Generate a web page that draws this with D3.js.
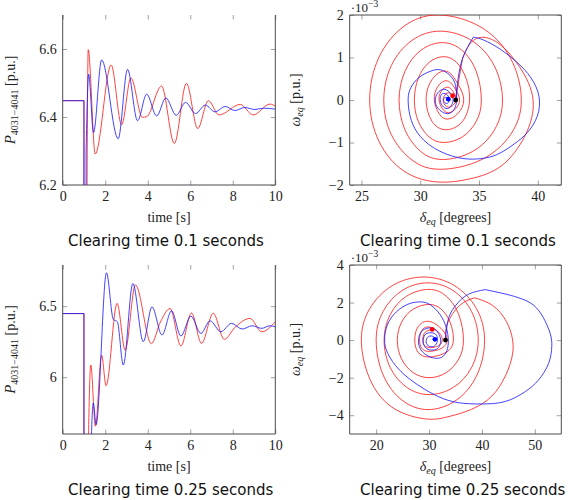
<!DOCTYPE html>
<html>
<head>
<meta charset="utf-8">
<script src="https://cdn.jsdelivr.net/npm/d3@7"></script>
<style>
body { margin: 0; background: #fff; }
</style>
</head>
<body>
<svg id="chart" width="568" height="500"></svg>
<script>
// ---------- time series, clearing time 0.1 s ----------
var ct1RedFaultTime = [0, 1.0, 1.0, 1.1];
var ct1RedFaultValue = [6.448, 6.448, 5.5, 5.5];
var ct1BlueFaultTime = [0, 1.0, 1.0, 1.1, 1.1];
var ct1BlueFaultValue = [6.448, 6.448, 5.5, 5.5, 6.30];
var ct1RedTime = [1.1, 1.2, 1.53, 2.28, 2.77, 3.21, 3.75, 3.95, 4.65, 5.25, 5.82, 6.35, 6.85, 7.35, 8.35, 8.96, 9.75, 10];
var ct1RedValue = [5.5, 6.598, 6.291, 6.553, 6.377, 6.515, 6.399, 6.401, 6.491, 6.322, 6.499, 6.366, 6.448, 6.406, 6.437, 6.406, 6.438, 6.432];
var ct1BlueTime = [1.1, 1.22, 1.45, 1.83, 2.61, 3.05, 3.52, 3.95, 4.42, 4.85, 5.34, 5.78, 6.25, 6.71, 7.17, 7.64, 8.1, 8.57, 9.04, 9.45, 10];
var ct1BlueValue = [6.30, 6.526, 6.354, 6.568, 6.336, 6.54, 6.389, 6.467, 6.403, 6.456, 6.405, 6.443, 6.41, 6.435, 6.415, 6.431, 6.419, 6.428, 6.422, 6.426, 6.423];

// ---------- time series, clearing time 0.25 s ----------
var ct2RedFaultTime = [0, 1.0, 1.0, 1.15];
var ct2RedFaultValue = [6.448, 6.448, 5.0, 5.0];
var ct2BlueFaultTime = [0, 1.0, 1.0, 1.25];
var ct2BlueFaultValue = [6.448, 6.448, 5.0, 5.0];
var ct2RedTime = [1.15, 1.32, 1.54, 1.83, 2.04, 2.56, 2.94, 3.42, 4.17, 4.6, 5.05, 5.56, 6.06, 6.53, 7.08, 7.6, 8.1, 8.81, 9.36, 10];
var ct2RedValue = [5.0, 6.086, 5.655, 6.156, 5.94, 6.52, 6.19, 6.65, 6.236, 6.39, 6.484, 6.22, 6.452, 6.238, 6.45, 6.266, 6.35, 6.414, 6.32, 6.39];
var ct2BlueTime = [1.25, 1.44, 1.57, 2.06, 2.38, 2.57, 2.85, 3.3, 3.79, 4.2, 4.67, 5.12, 5.56, 6.03, 6.5, 6.93, 7.44, 7.94, 8.44, 8.91, 9.36, 9.75, 10];
var ct2BlueValue = [5.0, 5.818, 5.666, 6.735, 6.407, 6.39, 6.086, 6.66, 6.25, 6.495, 6.297, 6.467, 6.29, 6.43, 6.308, 6.397, 6.32, 6.379, 6.339, 6.362, 6.344, 6.362, 6.355];

// ---------- phase portraits [delta_eq (deg), omega_eq (1e-3 p.u.)] ----------
var ph1BlueFault = [[33.02, 0.0], [33.16, 0.37], [33.58, 0.96], [34.52, 1.48]];
var ph1Blue = [[34.52, 1.48], [35.4, 1.41], [36.84, 1.19], [38.26, 0.88], [39.4, 0.53], [40.1, 0.09], [39.96, -0.38],
  [39.1, -0.77], [37.97, -1.04], [36.56, -1.28], [35.14, -1.38], [33.73, -1.38], [32.3, -1.28], [30.9, -1.08],
  [29.76, -0.77], [29.14, -0.38], [28.97, 0.02], [29.2, 0.29], [29.9, 0.53], [30.9, 0.68], [31.74, 0.71],
  [32.45, 0.6], [32.93, 0.41], [33.1, 0.1], [33.0, -0.15], [32.6, -0.3], [32.0, -0.3], [31.4, -0.15],
  [31.3, 0.05], [31.6, 0.2], [32.1, 0.25], [32.6, 0.15], [32.8, 0.0], [32.6, -0.15], [32.2, -0.2],
  [31.8, -0.1], [31.7, 0.05], [31.9, 0.15], [32.3, 0.12], [32.45, 0.0], [32.3, -0.08], [32.05, -0.05],
  [32.0, 0.03], [32.2, 0.06], [32.39, 0.02]];
var ph1RedFault = [[33.02, 0.0], [33.3, 0.5], [33.6, 0.98]];
var ph1Red = [[33.6, 0.98], [34.6, 1.42], [36.4, 1.38], [38.4, 0.8], [39.6, 0.0],
  [38.9, -0.85], [36.9, -1.55], [34.3, -1.85], [31.5, -1.93], [28.6, -1.671], [26.48, -0.965], [25.7, 0.0],
  [26.48, 1.0], [28.6, 1.732], [31.5, 2.0], [35.05, 1.732], [37.65, 1.0], [38.6, 0.0],
  [37.68, -0.815], [35.15, -1.412], [31.7, -1.63], [29.3, -1.412], [27.54, -0.815], [26.9, 0.0],
  [27.54, 0.81], [29.3, 1.403], [31.7, 1.62], [34.35, 1.403], [36.29, 0.81], [37.0, 0.0],
  [36.32, -0.7], [34.45, -1.212], [31.9, -1.4], [30.05, -1.212], [28.7, -0.7], [28.2, 0.0],
  [28.7, 0.675], [30.05, 1.169], [31.9, 1.35], [33.55, 1.169], [34.76, 0.675], [35.2, 0.0],
  [34.77, -0.5], [33.6, -0.866], [32.0, -1.0], [30.75, -0.866], [29.83, -0.5], [29.5, 0.0],
  [29.83, 0.51], [30.75, 0.883], [32.0, 1.02], [33.1, 0.883], [33.9, 0.51], [34.2, 0.0],
  [33.6, -0.5], [32.2, -0.7], [31.0, -0.5], [30.5, 0.0], [31.0, 0.48], [32.2, 0.68], [33.2, 0.38],
  [33.7, 0.0], [33.2, -0.32], [32.3, -0.45], [31.6, -0.32], [31.2, 0.0], [31.5, 0.32], [32.3, 0.45], [33.0, 0.25],
  [33.35, 0.0], [33.0, -0.21], [32.4, -0.3], [31.9, -0.21], [31.6, 0.0], [31.8, 0.21], [32.4, 0.3], [32.9, 0.15],
  [33.05, 0.0], [32.8, -0.12], [32.45, -0.17], [32.1, -0.12], [31.95, 0.0], [32.1, 0.12], [32.45, 0.17], [32.75, 0.1]];

var ph2BlueFault = [[33.1, 0.0], [33.4, 0.8], [34.1, 1.45], [35.5, 2.0], [37.5, 2.45], [40.6, 2.69]];
var ph2Blue = [[40.6, 2.69], [44.5, 2.45], [47.5, 2.2], [49.8, 1.85], [51.6, 1.2], [52.9, 0.35], [53.2, -0.35],
  [52.6, -1.24], [50.7, -2.12], [48.2, -2.74], [44.4, -3.27], [39.9, -3.4], [35.5, -3.33], [31.7, -3.0],
  [27.9, -2.39], [24.4, -1.59], [22.2, -0.71], [21.6, 0.0], [22.1, 0.8], [23.8, 1.5], [26.0, 1.91], [27.9, 2.03],
  [29.8, 1.95], [31.7, 1.5], [33.0, 0.88], [33.6, 0.18], [33.5, -0.44], [32.7, -0.85], [31.4, -0.97],
  [29.8, -0.85], [28.5, -0.53], [28.0, -0.09], [28.4, 0.39], [29.5, 0.62], [30.8, 0.62], [31.8, 0.35],
  [32.2, -0.04], [31.8, -0.39], [30.8, -0.53], [29.5, -0.44], [28.9, -0.09], [29.2, 0.27], [30.1, 0.39],
  [31.2, 0.32], [31.6, 0.04], [31.2, -0.27], [30.3, -0.35], [29.5, -0.18], [29.7, 0.14], [30.6, 0.21],
  [31.2, 0.07], [31.1, 0.04]];
var ph2RedFault = [[33.1, 0.0], [33.5, 0.9], [35.8, 1.85], [38.6, 2.25]];
var ph2Red = [[38.6, 2.25], [42.0, 1.85], [44.6, 1.0], [45.8, 0.0], [45.6, -1.0], [43.9, -2.2], [41.0, -3.2],
  [37.0, -3.8], [33.3, -4.1], [29.5, -4.2], [23.35, -3.64], [18.85, -2.1], [17.2, 0.0],
  [18.8, 1.68], [23.1, 2.91], [29.0, 3.36], [34.75, 2.91], [38.96, 1.68], [40.5, 0.0],
  [39.07, -1.85], [35.15, -3.2], [29.8, -3.7], [24.9, -3.2], [21.31, -1.85], [20.0, 0.0],
  [21.31, 1.525], [24.9, 2.64], [29.8, 3.05], [34.55, 2.64], [38.03, 1.525], [39.3, 0.0],
  [38.05, -1.45], [34.65, -2.51], [30.0, -2.9], [25.75, -2.51], [22.64, -1.45], [21.5, 0.0],
  [22.64, 1.35], [25.75, 2.34], [30.0, 2.7], [33.25, 2.34], [35.63, 1.35], [36.5, 0.0],
  [35.63, -1.0], [33.25, -1.732], [30.0, -2.0], [27.0, -1.732], [24.8, -1.0], [24.0, 0.0],
  [24.8, 0.95], [27.0, 1.645], [30.0, 1.9], [32.3, 1.645], [33.98, 0.95], [34.6, 0.0],
  [33.3, -0.64], [30.0, -0.9], [27.9, -0.64], [27.3, 0.0], [27.9, 0.7], [30.0, 1.0], [32.5, 0.55],
  [33.4, 0.0], [32.4, -0.43], [30.0, -0.6], [28.6, -0.43], [28.2, 0.0], [28.6, 0.5], [30.0, 0.7], [31.9, 0.4],
  [32.5, 0.0], [31.8, -0.3], [30.2, -0.4], [29.1, -0.28], [28.8, 0.0], [29.2, 0.4], [30.6, 0.57]];

var timeTicks = [0, 2, 4, 6, 8, 10];
var power1Ticks = [6.2, 6.4, 6.6];
var power2Ticks = [6, 6.5];
var delta1Ticks = [25, 30, 35, 40];
var omega1Ticks = [-2, -1, 0, 1, 2];
var delta2Ticks = [20, 30, 40, 50];
var omega2Ticks = [-4, -2, 0, 2, 4];

var serif = "'Liberation Serif', 'DejaVu Serif', serif";
var sans = "'DejaVu Sans', Verdana, sans-serif";
var redCol = "#ff1a1a", blueCol = "#1a1aff";

var svg = d3.select("#chart");

function panel(cfg) {
  var g = svg.append("g");
  var x = d3.scaleLinear().domain(cfg.xDomain).range([cfg.left, cfg.right]);
  var y = d3.scaleLinear().domain(cfg.yDomain).range([cfg.bottom, cfg.top]);

  var clipId = "clip" + cfg.id;
  svg.append("clipPath").attr("id", clipId).append("rect")
    .attr("x", cfg.left).attr("y", cfg.top)
    .attr("width", cfg.right - cfg.left).attr("height", cfg.bottom - cfg.top);

  // ticks on all four sides, pointing inward
  var axes = [
    [d3.axisBottom(x).tickValues(cfg.xTicks).tickFormat(cfg.xFormat), "translate(0," + cfg.bottom + ")"],
    [d3.axisTop(x).tickValues(cfg.xTicks).tickFormat(""), "translate(0," + cfg.top + ")"],
    [d3.axisLeft(y).tickValues(cfg.yTicks).tickFormat(cfg.yFormat), "translate(" + cfg.left + ",0)"],
    [d3.axisRight(y).tickValues(cfg.yTicks).tickFormat(""), "translate(" + cfg.right + ",0)"]
  ];
  axes.forEach(function(a) {
    var ax = g.append("g").attr("transform", a[1])
      .call(a[0].tickSize(-4.5).tickPadding(6));
    ax.select(".domain").remove();
    ax.selectAll(".tick line").attr("stroke", "#8a8a8a").attr("stroke-width", 0.8);
    ax.selectAll(".tick text").attr("fill", "#222")
      .style("font-family", serif).style("font-size", "14px");
  });

  // frame (the left plots have no visible top edge)
  var frame = [[cfg.left, cfg.top, cfg.left, cfg.bottom], [cfg.right, cfg.top, cfg.right, cfg.bottom],
               [cfg.left, cfg.bottom, cfg.right, cfg.bottom]];
  if (cfg.topLine) frame.push([cfg.left, cfg.top, cfg.right, cfg.top]);
  g.selectAll(".frame").data(frame).enter().append("line")
    .attr("x1", function(d) { return d[0]; }).attr("y1", function(d) { return d[1]; })
    .attr("x2", function(d) { return d[2]; }).attr("y2", function(d) { return d[3]; })
    .attr("stroke", "#4a4a4a").attr("stroke-width", 1);

  var plot = g.append("g").attr("clip-path", "url(#" + clipId + ")");
  cfg.series.forEach(function(s) {
    var line = d3.line()
      .x(function(d) { return x(d[0]); })
      .y(function(d) { return y(d[1]); })
      .curve(s.curve);
    plot.append("path").datum(s.points)
      .attr("fill", "none").attr("stroke", s.color)
      .attr("stroke-width", 1).attr("stroke-opacity", 0.82)
      .attr("stroke-linejoin", "round")
      .attr("d", line);
  });

  if (cfg.marks) {
    plot.selectAll(".mark").data(cfg.marks).enter().append("circle")
      .attr("cx", function(d) { return x(d.p[0]); })
      .attr("cy", function(d) { return y(d.p[1]); })
      .attr("r", 2.4).attr("fill", function(d) { return d.color; });
  }

  // x label
  var cx = (cfg.left + cfg.right) / 2;
  var xl = g.append("text").attr("x", cx).attr("y", cfg.bottom + 37)
    .attr("text-anchor", "middle").attr("fill", "#222")
    .style("font-family", serif).style("font-size", "14px");
  cfg.xLabel(xl);

  // y label
  var cy = (cfg.top + cfg.bottom) / 2;
  var yl = g.append("text").attr("transform", "translate(" + cfg.yLabelX + "," + cy + ") rotate(-90)")
    .attr("text-anchor", "middle").attr("fill", "#222")
    .style("font-family", serif).style("font-size", "14px");
  cfg.yLabel(yl);

  // 10^-3 multiplier
  if (cfg.scaleNote) {
    var sn = g.append("text").attr("x", cfg.left + 1).attr("y", cfg.top - 3)
      .attr("fill", "#222").style("font-family", serif).style("font-size", "13px");
    sn.append("tspan").text("\u00b710");
    sn.append("tspan").attr("dy", -5).style("font-size", "9.5px").text("\u22123");
  }

  // caption
  svg.append("text").attr("x", cfg.captionX).attr("y", cfg.bottom + 61)
    .attr("fill", "#111").style("font-family", sans).style("font-size", "15px")
    .text(cfg.caption);
}

function timeLabel(t) {
  t.text("time [s]");
}
function powerLabel(t) {
  t.append("tspan").style("font-style", "italic").style("font-size", "15px").text("P");
  t.append("tspan").attr("dy", 3).style("font-size", "10px").text("4031\u22124041");
  t.append("tspan").attr("dy", -3).text(" [p.u.]");
}
function deltaLabel(t) {
  t.append("tspan").style("font-style", "italic").text("\u03b4");
  t.append("tspan").attr("dy", 3).style("font-size", "10px").style("font-style", "italic").text("eq");
  t.append("tspan").attr("dy", -3).text(" [degrees]");
}
function omegaLabel(t) {
  t.append("tspan").style("font-style", "italic").text("\u03c9");
  t.append("tspan").attr("dy", 3).style("font-size", "10px").style("font-style", "italic").text("eq");
  t.append("tspan").attr("dy", -3).text(" [p.u.]");
}

var mono = d3.curveMonotoneX, lin = d3.curveLinear, smooth = d3.curveNatural;

panel({
  id: 1, left: 62.7, right: 275.3, top: 15, bottom: 185, topLine: false,
  xDomain: [0, 10], yDomain: [6.2, 6.7],
  xTicks: timeTicks, yTicks: power1Ticks, xFormat: d3.format("d"), yFormat: d3.format(".1f"),
  series: [
    { points: d3.zip(ct1RedFaultTime, ct1RedFaultValue), color: redCol, curve: lin },
    { points: d3.zip(ct1RedTime, ct1RedValue), color: redCol, curve: mono },
    { points: d3.zip(ct1BlueFaultTime, ct1BlueFaultValue), color: blueCol, curve: lin },
    { points: d3.zip(ct1BlueTime, ct1BlueValue), color: blueCol, curve: mono }
  ],
  xLabel: timeLabel, yLabel: powerLabel, yLabelX: 15,
  caption: "Clearing time 0.1 seconds", captionX: 68
});

panel({
  id: 2, left: 349.7, right: 561.3, top: 15, bottom: 185, topLine: true,
  xDomain: [24, 42], yDomain: [-2, 2],
  xTicks: delta1Ticks, yTicks: omega1Ticks, xFormat: d3.format("d"), yFormat: d3.format("d"),
  series: [
    { points: ph1RedFault, color: redCol, curve: lin },
    { points: ph1Red, color: redCol, curve: smooth },
    { points: ph1BlueFault, color: blueCol, curve: smooth },
    { points: ph1Blue, color: blueCol, curve: smooth }
  ],
  marks: [
    { p: ph1Red[ph1Red.length - 1], color: "#f00" },
    { p: ph1Blue[ph1Blue.length - 1], color: "#00f" },
    { p: ph1BlueFault[0], color: "#000" }
  ],
  xLabel: deltaLabel, yLabel: omegaLabel, yLabelX: 300, scaleNote: true,
  caption: "Clearing time 0.1 seconds", captionX: 360
});

panel({
  id: 3, left: 62.7, right: 275.3, top: 265, bottom: 434, topLine: false,
  xDomain: [0, 10], yDomain: [5.6, 6.79],
  xTicks: timeTicks, yTicks: power2Ticks, xFormat: d3.format("d"), yFormat: d3.format("~g"),
  series: [
    { points: d3.zip(ct2RedFaultTime, ct2RedFaultValue), color: redCol, curve: lin },
    { points: d3.zip(ct2RedTime, ct2RedValue), color: redCol, curve: mono },
    { points: d3.zip(ct2BlueFaultTime, ct2BlueFaultValue), color: blueCol, curve: lin },
    { points: d3.zip(ct2BlueTime, ct2BlueValue), color: blueCol, curve: mono }
  ],
  xLabel: timeLabel, yLabel: powerLabel, yLabelX: 15,
  caption: "Clearing time 0.25 seconds", captionX: 68
});

panel({
  id: 4, left: 349.7, right: 561.3, top: 265, bottom: 434, topLine: true,
  xDomain: [15, 55], yDomain: [-5, 4],
  xTicks: delta2Ticks, yTicks: omega2Ticks, xFormat: d3.format("d"), yFormat: d3.format("d"),
  series: [
    { points: ph2RedFault, color: redCol, curve: smooth },
    { points: ph2Red, color: redCol, curve: smooth },
    { points: ph2BlueFault, color: blueCol, curve: smooth },
    { points: ph2Blue, color: blueCol, curve: smooth }
  ],
  marks: [
    { p: ph2Red[ph2Red.length - 1], color: "#f00" },
    { p: ph2Blue[ph2Blue.length - 1], color: "#00f" },
    { p: ph2BlueFault[0], color: "#000" }
  ],
  xLabel: deltaLabel, yLabel: omegaLabel, yLabelX: 300, scaleNote: true,
  caption: "Clearing time 0.25 seconds", captionX: 360
});
</script>
</body>
</html>
